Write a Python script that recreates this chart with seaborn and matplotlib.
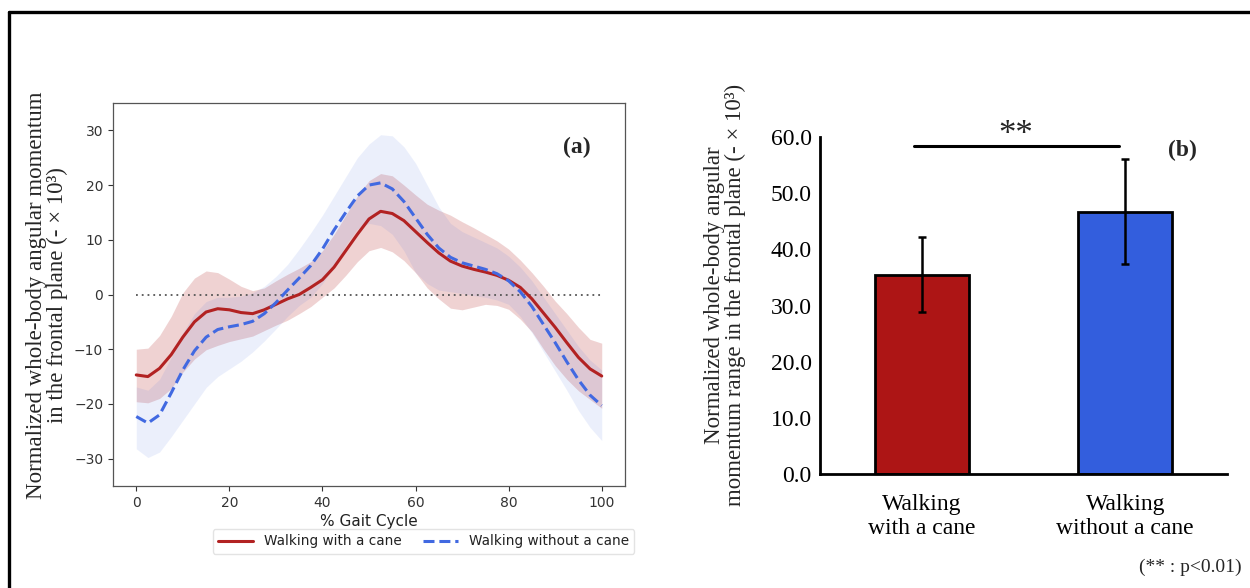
import numpy as np
import pandas as pd
import matplotlib
matplotlib.use("Agg")
import matplotlib.pyplot as plt
import seaborn as sns
from matplotlib.lines import Line2D

# ---- panel (a): whole-body angular momentum over the gait cycle ----
gait_pct = [0, 2.5, 5, 7.5, 10, 12.5, 15, 17.5, 20, 22.5, 25, 27.5, 30, 32.5, 35, 37.5,
            40, 42.5, 45, 47.5, 50, 52.5, 55, 57.5, 60, 62.5, 65, 67.5, 70, 72.5, 75,
            77.5, 80, 82.5, 85, 87.5, 90, 92.5, 95, 97.5, 100]

cane_mean = [-14.7, -15.0, -13.5, -11.0, -7.8, -5.0, -3.2, -2.6, -2.8, -3.3, -3.5, -2.8,
             -1.8, -0.8, 0.0, 1.3, 2.7, 5.0, 8.0, 11.0, 13.8, 15.2, 14.8, 13.5, 11.5, 9.5,
             7.6, 6.1, 5.2, 4.6, 4.1, 3.5, 2.6, 1.3, -0.8, -3.4, -6.0, -8.8, -11.5, -13.6,
             -14.9]
cane_upper = [-10.0, -9.8, -7.5, -4.0, 0.3, 3.0, 4.3, 4.0, 2.8, 1.5, 0.7, 1.2, 2.5, 3.7,
              4.8, 6.0, 8.0, 11.0, 14.5, 18.0, 20.8, 22.1, 21.7, 20.0, 18.2, 16.5, 15.4,
              14.5, 13.3, 12.2, 11.0, 9.8, 8.3, 6.3, 4.0, 1.5, -1.2, -3.5, -6.0, -8.2, -8.9]
cane_lower = [-19.6, -19.8, -19.0, -17.2, -14.2, -11.8, -10.1, -9.3, -8.6, -8.1, -7.6,
              -6.6, -5.6, -4.7, -3.5, -2.2, -0.5, 1.2, 3.5, 6.0, 8.0, 8.6, 7.8, 6.2, 4.0,
              1.2, -0.8, -2.5, -2.8, -2.3, -1.8, -2.0, -2.7, -4.5, -6.8, -10.0, -13.0,
              -15.5, -17.6, -19.2, -20.8]

nocane_mean = [-22.3, -23.5, -22.0, -18.0, -13.8, -10.3, -7.8, -6.4, -5.9, -5.5, -4.9,
               -3.5, -1.5, 0.8, 3.0, 5.3, 8.3, 11.8, 15.0, 18.0, 20.0, 20.4, 19.3, 17.0,
               14.0, 11.0, 8.5, 6.8, 5.8, 5.2, 4.6, 3.8, 2.5, 0.5, -2.2, -5.5, -8.8,
               -12.3, -15.6, -18.4, -20.3]
nocane_upper = [-16.9, -17.5, -15.5, -11.5, -7.0, -3.5, -1.3, -0.5, -0.5, -0.3, 0.3, 1.5,
                3.3, 5.5, 8.3, 11.3, 14.5, 18.0, 21.5, 25.0, 27.5, 29.2, 29.0, 27.0, 24.0,
                20.0, 16.0, 13.0, 11.5, 10.5, 9.5, 8.5, 7.0, 5.0, 2.5, -0.5, -3.5, -6.5,
                -9.5, -12.0, -13.8]
nocane_lower = [-28.2, -29.8, -28.8, -26.0, -23.0, -20.0, -17.0, -15.0, -13.6, -12.2,
                -10.5, -8.5, -6.3, -4.0, -2.0, -0.5, 2.0, 5.0, 9.0, 12.0, 13.0, 12.6, 11.0,
                8.0, 4.0, 2.0, 0.8, 0.5, 0.2, -0.2, -0.5, -1.0, -1.8, -4.0, -7.0, -10.5,
                -14.0, -17.5, -21.2, -24.3, -26.7]

line_labels = ["Walking with a cane", "Walking without a cane"]

# ---- panel (b): range of angular momentum ----
bar_labels = ["Walking\nwith a cane", "Walking\nwithout a cane"]
range_mean = [35.5, 46.7]
range_sd = [6.6, 9.4]

RED = "#B22222"
BLUE = "#4169E1"

sns.set_theme(style="ticks")
plt.rcParams["font.family"] = ["DejaVu Sans"]

fig = plt.figure(figsize=(12.5, 5.88), dpi=100)

# outer frame of the figure (left and top edges are visible)
fig.add_artist(Line2D([9 / 1250, 1.0], [1 - 12 / 588, 1 - 12 / 588],
                      transform=fig.transFigure, color="black", lw=2.4))
fig.add_artist(Line2D([9 / 1250, 9 / 1250], [0.0, 1 - 12 / 588],
                      transform=fig.transFigure, color="black", lw=2.4))

# ---------------- (a) ----------------
ax1 = fig.add_axes([113 / 1250, 1 - 486 / 588, 512 / 1250, 383 / 588])

long_df = pd.DataFrame({
    "pct": gait_pct * 2,
    "value": cane_mean + nocane_mean,
    "condition": [line_labels[0]] * len(gait_pct) + [line_labels[1]] * len(gait_pct),
})

ax1.fill_between(gait_pct, cane_lower, cane_upper, color=RED, alpha=0.2, lw=0)
ax1.fill_between(gait_pct, nocane_lower, nocane_upper, color=BLUE, alpha=0.1, lw=0)
ax1.plot([0, 100], [0, 0], ls=(0, (1, 2.2)), color="#555555", lw=1.3)

sns.lineplot(data=long_df, x="pct", y="value", hue="condition", style="condition",
             palette={line_labels[0]: RED, line_labels[1]: BLUE},
             dashes={line_labels[0]: "", line_labels[1]: (3.6, 1.6)},
             linewidth=2.2, ax=ax1)

ax1.set_xlim(-5, 105)
ax1.set_ylim(-35, 35)
ax1.set_xticks([0, 20, 40, 60, 80, 100])
ax1.set_yticks([-30, -20, -10, 0, 10, 20, 30])
ax1.tick_params(labelsize=10, colors="#333333", length=3.5, width=0.8)
for s in ax1.spines.values():
    s.set_color("#555555")
    s.set_linewidth(0.9)
ax1.set_xlabel("% Gait Cycle", fontsize=11, color="#222222", labelpad=3)
ax1.set_ylabel("")
ax1.text(0.905, 0.885, "(a)", transform=ax1.transAxes, fontsize=17,
         fontweight="bold", family="Liberation Serif", ha="center", va="center")

sns.move_legend(ax1, "center", bbox_to_anchor=(423.5 / 1250, 1 - 541.5 / 588),
                bbox_transform=fig.transFigure, ncol=2, title=None, frameon=True,
                fontsize=9.8, columnspacing=1.5, handlelength=2.6)
leg = ax1.get_legend()
leg.get_frame().set_edgecolor("#dddddd")
for t in leg.get_texts():
    t.set_color("#222222")

fig.text(47 / 1250, 1 - 295 / 588,
         "Normalized whole-body angular momentum\nin the frontal plane (- \u00d7 10\u00b3)",
         rotation=90, ha="center", va="center", multialignment="center",
         fontsize=16.5, family="Liberation Serif", linespacing=0.95)

# ---------------- (b) ----------------
ax2 = fig.add_axes([820 / 1250, 1 - 474.3 / 588, 407 / 1250, 337.6 / 588])

sns.barplot(x=bar_labels, y=range_mean, hue=bar_labels,
            palette=["#AD1515", "#335EDD"], saturation=1, width=0.46,
            edgecolor="black", linewidth=2.0, legend=False, ax=ax2)
ax2.errorbar([0, 1], range_mean, yerr=range_sd, fmt="none", ecolor="black",
             elinewidth=1.8, capsize=3, capthick=1.8)

ax2.set_xlim(-0.5, 1.5)
ax2.set_ylim(0, 60)
ax2.set_yticks(np.arange(0, 61, 10))
ax2.set_yticklabels([f"{v:.1f}" for v in np.arange(0, 61, 10)])
sns.despine(ax=ax2)
for s in ("left", "bottom"):
    ax2.spines[s].set_linewidth(2.0)
    ax2.spines[s].set_color("black")
ax2.tick_params(length=0, labelsize=17, pad=6)
for lab in ax2.get_xticklabels() + ax2.get_yticklabels():
    lab.set_family("Liberation Serif")
    lab.set_color("black")
ax2.tick_params(axis="x", pad=14)

# significance bracket
ax2.plot([-0.04, 0.97], [58.4, 58.4], color="black", lw=2.2, clip_on=False)
ax2.text(0.46, 60.2, "**", ha="center", va="center", fontsize=25,
         family="Liberation Serif", clip_on=False)
ax2.text(1.28, 57.5, "(b)", ha="center", va="center", fontsize=17,
         fontweight="bold", family="Liberation Serif", clip_on=False)

fig.text(725 / 1250, 1 - 295 / 588,
         "Normalized whole-body angular\nmomentum range in the frontal plane (- \u00d7 10\u00b3)",
         rotation=90, ha="center", va="center", multialignment="center",
         fontsize=16.5, family="Liberation Serif", linespacing=1.0)

fig.text(1190 / 1250, 1 - 567 / 588, "(** : p<0.01)", ha="center", va="center",
         fontsize=14, family="Liberation Serif")

fig.savefig("out.png", dpi=100)
